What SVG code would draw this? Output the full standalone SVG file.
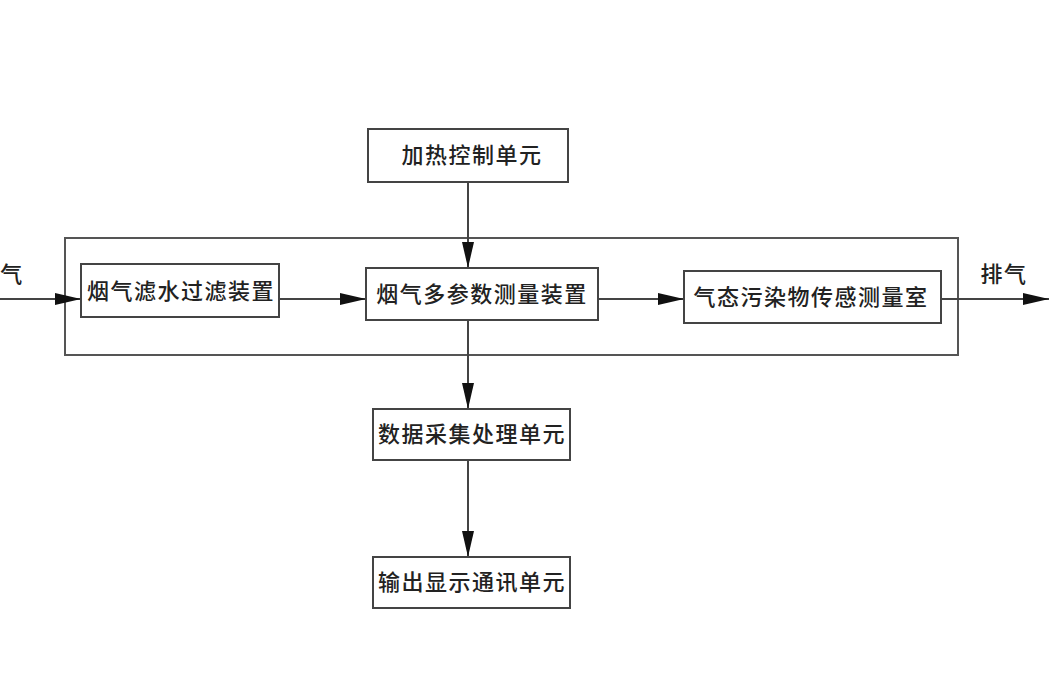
<svg xmlns="http://www.w3.org/2000/svg" width="1049" height="700" viewBox="0 0 1049 700">
<defs>
<marker id="arr" viewBox="0 0 26 12" refX="26" refY="6" markerWidth="26" markerHeight="12" markerUnits="userSpaceOnUse" orient="auto">
<path d="M0,0 L26,6 L0,12 Z" fill="#111"/>
</marker>
</defs>
<style>
.box{fill:#fff;stroke:#444;stroke-width:2}
.frame{fill:none;stroke:#555;stroke-width:2}
.lbl{font-family:"Liberation Serif","Noto Sans CJK SC",serif;font-size:22px;font-weight:500;fill:#222;text-anchor:middle;dominant-baseline:central;letter-spacing:1.5px}
.edge{stroke:#444;stroke-width:2;fill:none}
</style>
<rect width="1049" height="700" fill="#fff"/>
<rect id="frame" class="frame" x="65" y="238" width="893" height="117"/>
<g id="connectors">
<line class="edge" x1="0" y1="299" x2="81" y2="299" marker-end="url(#arr)"/>
<line class="edge" x1="279" y1="299" x2="366" y2="299" marker-end="url(#arr)"/>
<line class="edge" x1="598" y1="299" x2="684" y2="299" marker-end="url(#arr)"/>
<line class="edge" x1="941" y1="299" x2="1049" y2="299" marker-end="url(#arr)"/>
<line class="edge" x1="468" y1="182" x2="468" y2="268" marker-end="url(#arr)"/>
<line class="edge" x1="468" y1="320" x2="468" y2="409" marker-end="url(#arr)"/>
<line class="edge" x1="468" y1="460" x2="468" y2="557" marker-end="url(#arr)"/>
</g>
<g id="label-in"><text class="lbl" x="12" y="274">气</text></g>
<g id="label-out"><text class="lbl" x="1004" y="274">排气</text></g>
<g id="n-heat">
<rect class="box" x="368" y="129" width="200" height="53"/>
<text class="lbl" x="472" y="155">加热控制单元</text>
</g>
<g id="n-filter">
<rect class="box" x="81" y="264" width="198" height="53"/>
<text class="lbl" x="181" y="291">烟气滤水过滤装置</text>
</g>
<g id="n-measure">
<rect class="box" x="366" y="268" width="232" height="52"/>
<text class="lbl" x="482" y="294">烟气多参数测量装置</text>
</g>
<g id="n-sensor">
<rect class="box" x="684" y="271" width="257" height="52"/>
<text class="lbl" x="811" y="297">气态污染物传感测量室</text>
</g>
<g id="n-data">
<rect class="box" x="373" y="409" width="197" height="51"/>
<text class="lbl" x="472" y="434">数据采集处理单元</text>
</g>
<g id="n-output">
<rect class="box" x="373" y="557" width="197" height="51"/>
<text class="lbl" x="472" y="582">输出显示通讯单元</text>
</g>
</svg>
